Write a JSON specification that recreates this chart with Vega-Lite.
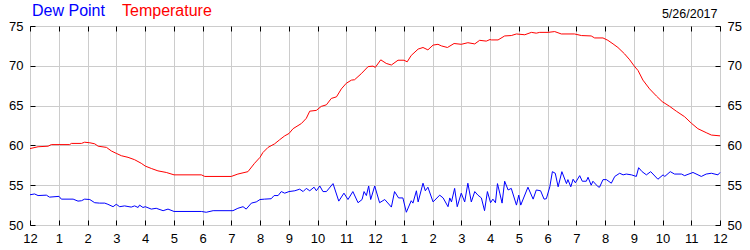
{
  "$schema": "https://vega.github.io/schema/vega-lite/v6.json",
  "width": 690,
  "height": 199,
  "autosize": "none",
  "padding": {"left": 30, "top": 26, "right": 30, "bottom": 25},
  "background": "white",
  "config": {
    "view": {"stroke": "#000000", "strokeWidth": 1},
    "axis": {"domain": false, "labelFont": "Liberation Sans", "labelFontSize": 13, "labelColor": "#000000", "tickColor": "#000000", "tickSize": -5, "gridColor": "#cccccc", "gridOpacity": 1, "gridWidth": 1, "title": null}
  },
  "datasets": {
    "temp": [
      {"t":0,"v":59.6},{"t":0.28,"v":59.83},{"t":0.63,"v":59.9},{"t":0.74,"v":60.1},{"t":1.38,"v":60.1},{"t":1.44,"v":60.25},{"t":1.79,"v":60.25},{"t":1.9,"v":60.4},{"t":2.08,"v":60.33},{"t":2.25,"v":60.2},{"t":2.37,"v":59.9},{"t":2.66,"v":59.75},{"t":2.83,"v":59.3},{"t":3.0,"v":59.0},{"t":3.18,"v":58.7},{"t":3.41,"v":58.5},{"t":3.64,"v":58.2},{"t":3.87,"v":57.75},{"t":4.01,"v":57.4},{"t":4.22,"v":57.1},{"t":4.45,"v":56.8},{"t":4.74,"v":56.6},{"t":5.01,"v":56.3},{"t":5.96,"v":56.3},{"t":6.08,"v":56.1},{"t":7.0,"v":56.1},{"t":7.23,"v":56.4},{"t":7.58,"v":56.7},{"t":7.81,"v":57.75},
      {"t":8.0,"v":58.5},{"t":8.1,"v":59.1},{"t":8.28,"v":59.75},{"t":8.51,"v":60.2},{"t":8.68,"v":60.7},{"t":8.86,"v":61.2},{"t":9.01,"v":61.5},{"t":9.15,"v":62.1},{"t":9.44,"v":62.75},{"t":9.61,"v":63.4},{"t":9.73,"v":64.3},{"t":9.96,"v":64.4},{"t":10.13,"v":64.9},{"t":10.31,"v":65.1},{"t":10.48,"v":65.9},{"t":10.66,"v":66.1},{"t":10.83,"v":67.1},{"t":11.0,"v":67.8},{"t":11.18,"v":68.2},{"t":11.29,"v":68.25},{"t":11.52,"v":69.0},{"t":11.76,"v":69.9},{"t":11.93,"v":69.96},{"t":12.01,"v":69.8},{"t":12.2,"v":70.75},{"t":12.39,"v":70.3},{"t":12.57,"v":70.1},{"t":12.8,"v":70.7},{"t":13.01,"v":70.7},{"t":13.12,"v":70.5},{"t":13.26,"v":71.3},{"t":13.5,"v":72.1},{"t":13.67,"v":72.3},{"t":13.84,"v":72.0},{"t":14.02,"v":72.6},{"t":14.19,"v":72.7},{"t":14.31,"v":72.5},{"t":14.52,"v":72.3},{"t":14.75,"v":72.8},{"t":15.0,"v":72.7},{"t":15.23,"v":72.9},{"t":15.47,"v":72.75},{"t":15.64,"v":73.2},{"t":15.87,"v":73.1},
      {"t":16.0,"v":73.3},{"t":16.05,"v":73.25},{"t":16.28,"v":73.25},{"t":16.51,"v":73.75},{"t":16.74,"v":73.8},{"t":16.92,"v":74.0},{"t":17.21,"v":73.9},{"t":17.44,"v":74.2},{"t":17.61,"v":74.1},{"t":17.73,"v":74.2},{"t":18.02,"v":74.2},{"t":18.25,"v":74.3},{"t":18.48,"v":74.0},{"t":18.94,"v":74.0},{"t":19.18,"v":73.8},{"t":19.52,"v":73.75},{"t":19.64,"v":73.5},{"t":19.93,"v":73.5},{"t":20.1,"v":73.2},{"t":20.28,"v":72.75},{"t":20.45,"v":72.3},{"t":20.68,"v":71.5},{"t":20.86,"v":70.75},{"t":21.01,"v":70.0},{"t":21.15,"v":69.4},{"t":21.32,"v":68.2},{"t":21.55,"v":67.1},{"t":21.79,"v":66.2},{"t":21.99,"v":65.5},{"t":22.25,"v":64.9},{"t":22.48,"v":64.3},{"t":22.77,"v":63.6},{"t":23.0,"v":62.8},{"t":23.23,"v":62.1},{"t":23.52,"v":61.6},{"t":23.7,"v":61.3},{"t":24.0,"v":61.2}
    ],
    "dew": [
      {"t":0,"v":53.8},{"t":0.16,"v":53.9},{"t":0.28,"v":53.7},{"t":0.57,"v":53.75},{"t":0.68,"v":53.5},{"t":1.01,"v":53.6},{"t":1.09,"v":53.25},{"t":1.5,"v":53.25},{"t":1.67,"v":53.0},{"t":1.79,"v":53.05},{"t":1.9,"v":53.25},{"t":2.08,"v":53.2},{"t":2.25,"v":52.8},{"t":2.42,"v":52.75},{"t":2.6,"v":52.75},{"t":2.71,"v":52.6},{"t":2.89,"v":52.3},{"t":3.0,"v":52.6},{"t":3.12,"v":52.3},{"t":3.29,"v":52.4},{"t":3.52,"v":52.25},{"t":3.64,"v":52.4},{"t":3.76,"v":52.2},{"t":3.81,"v":52.5},{"t":3.93,"v":52.2},{"t":4.01,"v":52.3},{"t":4.22,"v":52.0},{"t":4.39,"v":52.1},{"t":4.63,"v":51.8},{"t":4.8,"v":52.0},{"t":5.01,"v":51.7},{"t":5.96,"v":51.7},{"t":6.13,"v":51.6},{"t":6.37,"v":51.8},{"t":7.06,"v":51.8},{"t":7.23,"v":52.1},{"t":7.41,"v":52.3},{"t":7.52,"v":52.0},{"t":7.7,"v":52.75},{"t":7.87,"v":52.9},
      {"t":8.0,"v":53.2},{"t":8.16,"v":53.25},{"t":8.39,"v":53.3},{"t":8.49,"v":53.7},{"t":8.63,"v":53.7},{"t":8.74,"v":54.2},{"t":8.86,"v":54.0},{"t":9.01,"v":54.2},{"t":9.21,"v":54.3},{"t":9.38,"v":54.5},{"t":9.5,"v":54.2},{"t":9.61,"v":54.6},{"t":9.73,"v":54.3},{"t":9.88,"v":54.75},{"t":9.96,"v":54.3},{"t":10.08,"v":54.9},{"t":10.19,"v":54.2},{"t":10.31,"v":54.2},{"t":10.54,"v":55.2},{"t":10.74,"v":53.0},{"t":10.92,"v":54.0},{"t":11.06,"v":53.2},{"t":11.23,"v":54.2},{"t":11.41,"v":52.8},{"t":11.55,"v":53.2},{"t":11.62,"v":54.2},{"t":11.7,"v":53.7},{"t":11.78,"v":54.9},{"t":11.85,"v":53.2},{"t":11.99,"v":54.9},{"t":12.16,"v":52.8},{"t":12.34,"v":53.2},{"t":12.57,"v":52.25},{"t":12.68,"v":54.2},{"t":12.82,"v":53.4},{"t":12.97,"v":53.4},{"t":13.09,"v":51.6},{"t":13.26,"v":53.05},{"t":13.32,"v":52.75},{"t":13.44,"v":54.3},{"t":13.5,"v":52.9},{"t":13.67,"v":55.25},{"t":13.75,"v":54.3},{"t":13.84,"v":54.75},{"t":14.02,"v":52.9},{"t":14.25,"v":53.75},{"t":14.37,"v":53.4},{"t":14.54,"v":52.3},{"t":14.6,"v":53.4},{"t":14.66,"v":52.9},{"t":14.77,"v":54.6},{"t":14.86,"v":52.3},{"t":15.0,"v":54.0},{"t":15.12,"v":52.9},{"t":15.23,"v":55.25},{"t":15.35,"v":52.9},{"t":15.47,"v":54.2},{"t":15.58,"v":53.75},{"t":15.7,"v":53.4},{"t":15.81,"v":51.8},{"t":15.91,"v":54.2},
      {"t":16.02,"v":52.8},{"t":16.1,"v":53.25},{"t":16.19,"v":52.8},{"t":16.26,"v":55.2},{"t":16.34,"v":54.0},{"t":16.42,"v":52.75},{"t":16.51,"v":55.5},{"t":16.63,"v":54.4},{"t":16.74,"v":54.6},{"t":16.92,"v":52.5},{"t":17.0,"v":53.75},{"t":17.07,"v":52.5},{"t":17.32,"v":54.75},{"t":17.5,"v":53.25},{"t":17.61,"v":54.4},{"t":17.76,"v":54.3},{"t":17.88,"v":53.25},{"t":17.96,"v":53.3},{"t":18.08,"v":54.8},{"t":18.17,"v":56.7},{"t":18.27,"v":56.5},{"t":18.37,"v":54.8},{"t":18.5,"v":56.7},{"t":18.66,"v":55.2},{"t":18.71,"v":55.7},{"t":18.81,"v":54.8},{"t":18.89,"v":55.75},{"t":18.97,"v":55.3},{"t":19.12,"v":56.2},{"t":19.21,"v":55.5},{"t":19.35,"v":55.5},{"t":19.41,"v":56.0},{"t":19.52,"v":55.0},{"t":19.58,"v":55.5},{"t":19.76,"v":54.8},{"t":19.81,"v":54.75},{"t":19.93,"v":55.7},{"t":20.05,"v":55.7},{"t":20.22,"v":55.25},{"t":20.34,"v":56.1},{"t":20.51,"v":56.5},{"t":20.63,"v":56.3},{"t":20.74,"v":56.4},{"t":20.92,"v":56.3},{"t":21.09,"v":56.1},{"t":21.17,"v":57.2},{"t":21.29,"v":56.7},{"t":21.44,"v":56.3},{"t":21.59,"v":56.7},{"t":21.84,"v":55.75},{"t":22.02,"v":56.3},{"t":22.08,"v":56.1},{"t":22.27,"v":56.7},{"t":22.42,"v":56.4},{"t":22.66,"v":56.4},{"t":22.77,"v":56.2},{"t":23.06,"v":56.6},{"t":23.35,"v":56.1},{"t":23.52,"v":56.4},{"t":23.7,"v":56.5},{"t":23.93,"v":56.3},{"t":24.0,"v":56.6}
    ]
  },
  "layer": [
    {
      "data": {"name": "temp"},
      "mark": {"type": "line", "strokeWidth": 1, "interpolate": "linear"},
      "encoding": {
        "x": {"field": "t", "type": "quantitative", "scale": {"domain": [0, 24], "nice": false, "zero": false},
              "axis": {"orient": "bottom", "values": [0,1,2,3,4,5,6,7,8,9,10,11,12,13,14,15,16,17,18,19,20,21,22,23,24], "labelExpr": "datum.value % 12 == 0 ? '12' : '' + (datum.value % 12)", "labelPadding": 12, "grid": true, "labelFlush": false, "labelOverlap": false}},
        "y": {"field": "v", "type": "quantitative", "scale": {"domain": [50, 75], "nice": false, "zero": false},
              "axis": {"orient": "left", "values": [50,55,60,65,70,75], "labelPadding": 12, "grid": true, "labelFlush": false}},
        "color": {"datum": "Temperature", "type": "nominal",
                  "scale": {"domain": ["Dew Point", "Temperature"], "range": ["#0000ff", "#ff0000"]},
                  "legend": {"orient": "none", "legendX": -14, "legendY": -23, "direction": "horizontal", "title": null,
                             "symbolSize": 0, "symbolStrokeWidth": 0, "symbolOpacity": 0, "labelOffset": 0, "columnPadding": 1,
                             "labelFont": "Liberation Sans", "labelFontSize": 16,
                             "labelColor": {"expr": "datum.value == 'Dew Point' ? '#0000ff' : '#ff0000'"}}}
      }
    },
    {
      "data": {"name": "dew"},
      "mark": {"type": "line", "strokeWidth": 1, "interpolate": "linear"},
      "encoding": {
        "x": {"field": "t", "type": "quantitative",
              "axis": {"orient": "top", "values": [0,1,2,3,4,5,6,7,8,9,10,11,12,13,14,15,16,17,18,19,20,21,22,23,24], "labels": false, "grid": false,
                       "title": "5/26/2017", "titleFont": "Liberation Sans", "titleFontSize": 12.5, "titleFontWeight": "normal", "titleColor": "#000000",
                       "titleAnchor": "end", "titleAlign": "right", "titleBaseline": "alphabetic", "titleX": 687, "titleY": -9}},
        "y": {"field": "v", "type": "quantitative",
              "axis": {"orient": "right", "values": [50,55,60,65,70,75], "labelPadding": 12, "grid": false, "labelFlush": false}},
        "color": {"datum": "Dew Point", "type": "nominal"}
      }
    }
  ],
  "resolve": {"axis": {"x": "independent", "y": "independent"}}
}
